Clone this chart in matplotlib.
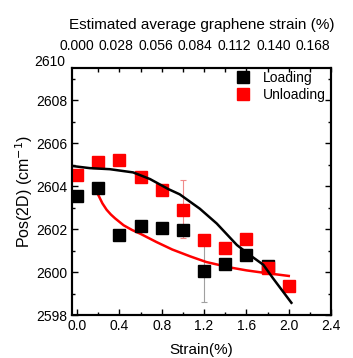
#!/usr/bin/env python

"""
Pos(2D) vs applied strain for loading / unloading, with the estimated
graphene strain on the top axis.
"""

import numpy as np
import matplotlib
matplotlib.use('Agg')
import matplotlib.pyplot as plt
from matplotlib.ticker import MultipleLocator, FixedLocator
plt.rcParams.update({'font.family': ['Liberation Sans', 'DejaVu Sans'], 'font.size': 10})

# measured points
strain_load = [0.0, 0.2, 0.4, 0.6, 0.8, 1.0, 1.2, 1.4, 1.6, 1.8]
pos_load = [2603.53, 2603.92, 2601.72, 2602.13, 2602.07, 2601.98, 2600.03, 2600.37, 2600.80, 2600.26]
strain_unload = [0.0, 0.2, 0.4, 0.6, 0.8, 1.0, 1.2, 1.4, 1.6, 1.8, 2.0]
pos_unload = [2604.52, 2605.13, 2605.21, 2604.41, 2603.84, 2602.90, 2601.49, 2601.14, 2601.53, 2600.18, 2599.34]

# error bars (only two shown)
err_load_x = [1.2]
err_load_y = [2600.03]
err_load = [1.43]
err_unload_x = [1.0]
err_unload_y = [2602.93]
err_unload = [1.36]

# fitted curves
fit_load_x = [-0.047, 0.12, 0.31, 0.53, 0.69, 0.86, 0.97, 1.16, 1.32, 1.51, 1.63, 1.76, 1.85, 2.025]
fit_load_y = [2604.94, 2604.84, 2604.79, 2604.64, 2604.33, 2603.87, 2603.62, 2602.95, 2602.26, 2601.26,
              2600.80, 2600.34, 2599.72, 2598.57]
fit_unload_x = [0.2, 0.24, 0.28, 0.32, 0.36, 0.44, 0.52, 0.6, 0.75, 0.9, 1.07, 1.22, 1.44, 1.6, 1.76, 2.0]
fit_unload_y = [2603.6, 2603.2, 2602.9, 2602.68, 2602.5, 2602.18, 2601.96, 2601.78, 2601.4, 2601.05,
                2600.73, 2600.47, 2600.22, 2600.08, 2599.97, 2599.82]

# top axis labels (graphene strain)
top_labels = ['0.000', '0.028', '0.056', '0.084', '0.112', '0.140', '0.168']

fig = plt.figure(figsize=(3.53, 3.58), dpi=100)
ax = fig.add_axes([0.204, 0.120, 0.734, 0.690])

ax.errorbar(err_unload_x, err_unload_y, yerr=err_unload, fmt='none', ecolor='#f08a8a',
            elinewidth=0.8, capsize=2.5, capthick=0.8, zorder=1)
ax.errorbar(err_load_x, err_load_y, yerr=err_load, fmt='none', ecolor='#a0a0a0',
            elinewidth=0.8, capsize=2.5, capthick=0.8, zorder=1)

ax.plot(fit_unload_x, fit_unload_y, color='red', lw=1.8, zorder=2, solid_joinstyle='round')
ax.plot(strain_load, pos_load, ls='none', marker='s', ms=9.3, color='black', label='Loading', zorder=3)
ax.plot(strain_unload, pos_unload, ls='none', marker='s', ms=9.3, color='red', label='Unloading', zorder=3)
ax.plot(fit_load_x, fit_load_y, color='black', lw=1.8, zorder=4, solid_joinstyle='round')

ax.set_xlim(-0.047, 2.4)
ax.set_ylim(2598.05, 2609.5)
ax.set_xticks(np.arange(0, 2.41, 0.4))
ax.set_xticklabels([f'{v:.1f}' for v in np.arange(0, 2.41, 0.4)])
ax.xaxis.set_minor_locator(MultipleLocator(0.2))
ax.set_yticks([2598, 2600, 2602, 2604, 2606, 2608])
ax.yaxis.set_minor_locator(MultipleLocator(1))
ax.tick_params(which='both', direction='in', right=True, width=1.0)
ax.tick_params(which='major', length=4, labelsize=10)
ax.tick_params(which='minor', length=2.5)
ax.tick_params(axis='x', which='both', top=False, pad=3)
for s in ax.spines.values():
    s.set_linewidth(1.5)

ax.set_xlabel('Strain(%)', fontsize=11, labelpad=7)
ax.set_ylabel('Pos(2D) (cm$^{-1}$)', fontsize=11.5, labelpad=1)

# top axis
axt = ax.twiny()
axt.set_xlim(ax.get_xlim())
axt.xaxis.set_major_locator(FixedLocator([i * 0.371 for i in range(len(top_labels))]))
axt.set_xticklabels(top_labels)
axt.xaxis.set_minor_locator(MultipleLocator(0.2))
axt.tick_params(which='major', length=0, labelsize=10, pad=11)
axt.tick_params(which='minor', direction='in', length=3, width=1.0)
axt.set_xlabel('Estimated average graphene strain (%)', fontsize=11, labelpad=7)
for s in axt.spines.values():
    s.set_linewidth(1.5)

fig.text(0.184, 0.827, '2610', ha='right', va='center', fontsize=10)

ax.legend(loc='upper left', frameon=False, fontsize=10, handlelength=0.8, handletextpad=1.04,
          labelspacing=0.2, borderpad=0, borderaxespad=0, bbox_to_anchor=(0.639, 0.988))

plt.savefig('out.png', dpi=100)
plt.close()
